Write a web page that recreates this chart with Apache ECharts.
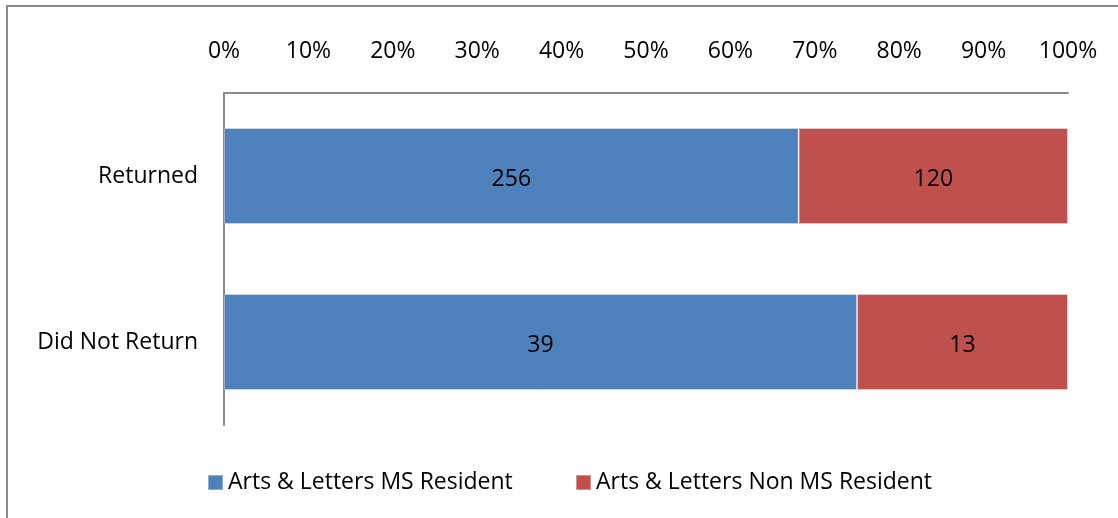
<!DOCTYPE html>
<html><head><meta charset="utf-8">
<script src="https://cdn.jsdelivr.net/npm/echarts@6/dist/echarts.min.js"></script>
<style>html,body{margin:0;padding:0;background:#fff}#c{width:1118px;height:518px}</style>
</head><body><div id="c"></div>
<script>
const categories = ['Returned', 'Did Not Return'];
const seriesNames = ['Arts & Letters MS Resident', 'Arts & Letters Non MS Resident'];
const resident = [256, 39];
const nonResident = [120, 13];
const tickLabels = ['0%','10%','20%','30%','40%','50%','60%','70%','80%','90%','100%'];

const totals = resident.map((v, i) => v + nonResident[i]);
const pct = arr => arr.map((v, i) => ({ value: v / totals[i] * 100, raw: v }));
const FONT = 'Open Sans';
const FS = 23;
const chart = echarts.init(document.getElementById('c'));
chart.setOption({
  animation: false,
  textStyle: { fontFamily: FONT },
  graphic: [{ type: 'rect', shape: { x: 7, y: 6, width: 1300, height: 700 },
    style: { fill: 'none', stroke: '#888888', lineWidth: 2 }, silent: true }],
  grid: { left: 224, right: 50, top: 93, bottom: 93 },
  xAxis: {
    type: 'value', position: 'top', min: 0, max: 100, interval: 10,
    axisLine: { show: true, lineStyle: { color: '#888888', width: 2 } },
    axisTick: { show: false }, splitLine: { show: false },
    axisLabel: { margin: 30, fontSize: FS, color: '#000', fontFamily: FONT,
      formatter: v => tickLabels[Math.round(v / 10)] }
  },
  yAxis: {
    type: 'category', data: categories, inverse: true,
    axisLine: { show: true, lineStyle: { color: '#888888', width: 2 } },
    axisTick: { show: false },
    axisLabel: { margin: 26, fontSize: FS, color: '#000', fontFamily: FONT, padding: [4, 0, 0, 0] }
  },
  legend: [
    { data: [seriesNames[0]], left: 202, top: 466, itemWidth: 15, itemHeight: 15, itemGap: 6, icon: 'rect',
      textStyle: { fontSize: FS, color: '#000', fontFamily: FONT } },
    { data: [seriesNames[1]], left: 570, top: 466, itemWidth: 15, itemHeight: 15, itemGap: 6, icon: 'rect',
      textStyle: { fontSize: FS, color: '#000', fontFamily: FONT } }
  ],
  series: [
    { name: seriesNames[0], type: 'bar', stack: 's', barWidth: 96, data: pct(resident),
      itemStyle: { color: '#4F81BD', borderColor: 'rgba(255,255,255,0.35)', borderWidth: 1 },
      label: { show: true, position: 'inside', fontSize: FS, color: '#000', fontFamily: FONT,
        offset: [0, 3], formatter: p => p.data.raw } },
    { name: seriesNames[1], type: 'bar', stack: 's', barWidth: 96, data: pct(nonResident),
      itemStyle: { color: '#C0504D', borderColor: 'rgba(255,255,255,0.35)', borderWidth: 1 },
      label: { show: true, position: 'inside', fontSize: FS, color: '#000', fontFamily: FONT,
        offset: [0, 3], formatter: p => p.data.raw } }
  ]
});
</script></body></html>
